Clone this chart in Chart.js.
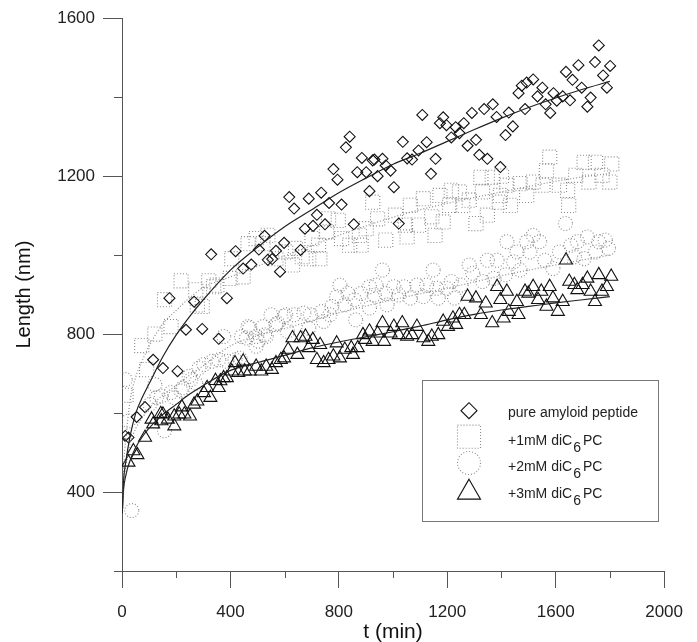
<!DOCTYPE html>
<html>
<head>
<meta charset="utf-8">
<script src="https://cdn.jsdelivr.net/npm/chart.js@4.4.0/dist/chart.umd.min.js"></script>
<style>
  html, body { margin: 0; padding: 0; background: #fff; }
</style>
</head>
<body>
<canvas id="grafica" width="697" height="642"></canvas>
<script>
// DATOS (t en min, longitud en nm)
const amyT = [12, 24, 54, 85, 115, 151, 175, 205, 236, 266, 296, 329, 357, 387, 419, 447, 477, 505, 526, 538, 554, 568, 583, 598, 617, 635, 659, 675, 689, 705, 719, 735, 749, 764, 780, 795, 810, 826, 840, 855, 868, 885, 901, 913, 925, 931, 943, 961, 973, 991, 1003, 1021, 1036, 1052, 1070, 1094, 1108, 1124, 1140, 1157, 1173, 1185, 1197, 1215, 1231, 1245, 1261, 1275, 1291, 1306, 1318, 1336, 1348, 1368, 1382, 1396, 1415, 1427, 1442, 1463, 1475, 1487, 1493, 1517, 1533, 1551, 1563, 1580, 1592, 1604, 1626, 1638, 1653, 1662, 1684, 1696, 1717, 1729, 1745, 1759, 1775, 1789, 1801];
const amyL = [542, 538, 590, 615, 735, 714, 891, 706, 811, 882, 813, 1002, 788, 891, 1010, 966, 976, 1014, 1049, 988, 990, 1011, 958, 1031, 1147, 1118, 1013, 1067, 1143, 1074, 1102, 1158, 1078, 1132, 1218, 1191, 1128, 1273, 1300, 1078, 1210, 1246, 1210, 1162, 1240, 1242, 1200, 1244, 1227, 1214, 1172, 1080, 1287, 1245, 1242, 1265, 1355, 1286, 1206, 1244, 1334, 1349, 1329, 1298, 1324, 1309, 1334, 1277, 1360, 1292, 1254, 1370, 1244, 1382, 1350, 1223, 1304, 1361, 1326, 1410, 1429, 1370, 1437, 1445, 1402, 1424, 1382, 1360, 1410, 1391, 1402, 1464, 1392, 1444, 1481, 1424, 1376, 1399, 1489, 1531, 1455, 1424, 1479];

const c1T = [15, 73, 91, 121, 157, 181, 218, 272, 278, 296, 320, 338, 350, 399, 405, 447, 465, 495, 520, 538, 568, 604, 629, 640, 665, 689, 701, 725, 730, 755, 762, 798, 810, 840, 876, 882, 901, 925, 943, 973, 1009, 1046, 1052, 1064, 1094, 1112, 1143, 1155, 1173, 1185, 1209, 1215, 1245, 1257, 1281, 1306, 1324, 1330, 1348, 1366, 1392, 1396, 1400, 1420, 1433, 1469, 1493, 1517, 1553, 1566, 1578, 1614, 1644, 1648, 1674, 1705, 1723, 1747, 1771, 1800, 1807];
const c1L = [645, 771, 710, 800, 887, 819, 935, 912, 874, 870, 935, 920, 924, 941, 991, 945, 1029, 1042, 1029, 1050, 991, 1008, 975, 1017, 996, 991, 1042, 1025, 991, 1059, 1092, 1088, 1042, 1025, 1050, 1025, 1067, 1134, 1092, 1038, 1101, 1076, 1046, 1126, 1076, 1143, 1097, 1050, 1151, 1084, 1126, 1164, 1160, 1126, 1139, 1080, 1197, 1160, 1101, 1197, 1134, 1151, 1200, 1177, 1126, 1181, 1151, 1185, 1177, 1214, 1248, 1177, 1164, 1126, 1202, 1235, 1185, 1235, 1202, 1185, 1231];

const c2T = [12, 24, 36, 103, 121, 127, 145, 157, 181, 193, 218, 224, 248, 254, 272, 284, 302, 332, 357, 375, 387, 417, 435, 441, 459, 465, 471, 495, 495, 502, 520, 526, 532, 550, 568, 574, 598, 604, 610, 635, 671, 689, 695, 737, 744, 767, 774, 792, 804, 822, 834, 858, 862, 882, 913, 913, 931, 937, 961, 973, 978, 1003, 1021, 1040, 1064, 1088, 1112, 1124, 1148, 1161, 1167, 1197, 1215, 1227, 1251, 1281, 1294, 1330, 1348, 1372, 1384, 1415, 1420, 1445, 1457, 1469, 1493, 1505, 1517, 1541, 1560, 1590, 1614, 1636, 1656, 1669, 1680, 1705, 1717, 1747, 1759, 1783, 1795];
const c2L = [685, 580, 353, 622, 672, 639, 643, 555, 652, 639, 656, 664, 693, 685, 676, 714, 723, 731, 735, 794, 731, 735, 739, 794, 790, 819, 815, 794, 769, 782, 819, 798, 794, 849, 824, 828, 845, 849, 807, 849, 853, 815, 849, 857, 832, 849, 870, 895, 924, 874, 903, 887, 836, 903, 920, 866, 899, 924, 962, 903, 874, 920, 899, 920, 891, 924, 895, 924, 962, 916, 891, 916, 933, 891, 924, 975, 954, 933, 987, 941, 987, 950, 1034, 983, 1008, 962, 1034, 1008, 1050, 1034, 987, 966, 1008, 1080, 1025, 996, 1034, 991, 1046, 1008, 1034, 1038, 1017];

const c3T = [24, 42, 57, 85, 109, 115, 143, 145, 151, 169, 193, 193, 211, 221, 230, 251, 266, 278, 302, 314, 326, 345, 357, 363, 375, 387, 405, 417, 429, 447, 453, 471, 495, 514, 532, 553, 568, 586, 598, 613, 629, 647, 659, 677, 689, 704, 719, 731, 744, 762, 780, 792, 804, 822, 846, 852, 870, 889, 897, 913, 925, 943, 961, 967, 991, 1003, 1021, 1034, 1052, 1070, 1088, 1112, 1130, 1143, 1167, 1185, 1203, 1221, 1233, 1245, 1263, 1275, 1306, 1324, 1342, 1366, 1384, 1396, 1408, 1420, 1427, 1457, 1463, 1487, 1499, 1517, 1535, 1547, 1566, 1578, 1590, 1608, 1626, 1638, 1650, 1669, 1680, 1699, 1717, 1729, 1745, 1759, 1771, 1789, 1805];
const c3L = [475, 504, 494, 538, 584, 572, 598, 580, 597, 584, 592, 567, 597, 615, 597, 592, 622, 630, 651, 664, 639, 682, 664, 681, 689, 689, 706, 727, 702, 731, 706, 706, 718, 706, 718, 710, 727, 735, 739, 761, 790, 748, 790, 794, 765, 786, 735, 773, 727, 735, 744, 777, 739, 761, 765, 748, 765, 798, 786, 807, 781, 802, 828, 781, 802, 819, 798, 828, 794, 798, 819, 790, 781, 794, 798, 832, 819, 840, 824, 849, 849, 895, 891, 849, 878, 828, 920, 887, 840, 908, 857, 882, 849, 908, 903, 920, 887, 908, 870, 920, 891, 857, 882, 987, 933, 925, 912, 925, 941, 908, 882, 950, 908, 920, 946];

// curvas de ajuste
const fitT   = [1, 5, 15, 30, 50, 75, 100, 150, 200, 250, 300, 400, 500, 600, 700, 800, 900, 1000, 1100, 1200, 1300, 1400, 1500, 1600, 1700, 1800];
const fitAmy = [345, 420, 480, 542, 598, 640, 674, 742, 798, 845, 887, 962, 1020, 1072, 1115, 1158, 1195, 1230, 1258, 1288, 1318, 1347, 1374, 1398, 1420, 1440];
const fitC1  = [345, 450, 540, 632, 690, 733, 770, 825, 860, 892, 918, 945, 972, 998, 1024, 1050, 1074, 1096, 1115, 1131, 1146, 1160, 1174, 1187, 1198, 1207];
const fitC2  = [345, 410, 468, 522, 560, 588, 612, 645, 670, 696, 720, 770, 796, 814, 834, 854, 871, 887, 902, 916, 932, 948, 962, 975, 988, 1000];
const fitC3  = [345, 400, 445, 480, 512, 540, 562, 596, 622, 648, 670, 708, 728, 746, 765, 780, 793, 806, 820, 836, 850, 861, 870, 879, 887, 895];

const xTicks = [0, 400, 800, 1200, 1600, 2000];
const yTicks = [400, 800, 1200, 1600];
const xMinor = [200, 600, 1000, 1400, 1800];
const yMinor = [200, 600, 1000, 1400];

const legendLabels = [
  ['pure amyloid peptide', '', ''],
  ['+1mM diC', '6', 'PC'],
  ['+2mM diC', '6', 'PC'],
  ['+3mM diC', '6', 'PC']
];

const FUENTE = "'Liberation Sans', Arial, sans-serif";
const GRIS = '#8a8a8a';
const PUNTOS = [1, 2];
const pares = (t, l) => t.map((v, i) => ({ x: v, y: l[i] }));

// lineas punteadas para los marcadores grises
const punteado = {
  id: 'punteado',
  beforeDatasetDraw(chart, args) {
    const ds = chart.data.datasets[args.index];
    if (ds.punteado) chart.ctx.setLineDash(PUNTOS);
  },
  afterDatasetDraw(chart) {
    chart.ctx.setLineDash([]);
  }
};

// marcas menores de los ejes
const marcasMenores = {
  id: 'marcasMenores',
  afterDraw(chart) {
    const { ctx, scales: { x, y } } = chart;
    ctx.save();
    ctx.strokeStyle = '#555';
    ctx.lineWidth = 1;
    ctx.beginPath();
    xMinor.forEach(v => {
      const px = Math.round(x.getPixelForValue(v)) + 0.5;
      ctx.moveTo(px, x.top);
      ctx.lineTo(px, x.top + 7);
    });
    yMinor.forEach(v => {
      const py = Math.round(y.getPixelForValue(v)) + 0.5;
      ctx.moveTo(y.right - 8, py);
      ctx.lineTo(y.right, py);
    });
    ctx.stroke();
    ctx.restore();
  }
};

// leyenda en caja con subindice
const leyenda = {
  id: 'leyenda',
  afterDraw(chart) {
    const ctx = chart.ctx;
    const estilos = [
      { pointStyle: 'rectRot', radius: 8, color: '#111', dash: [], dy: 0 },
      { pointStyle: 'rect', radius: 16.3, color: GRIS, dash: PUNTOS, dy: 0 },
      { pointStyle: 'circle', radius: 11.5, color: GRIS, dash: PUNTOS, dy: 0 },
      { pointStyle: 'triangle', radius: 13.3, color: '#111', dash: [], dy: 2.5 }
    ];
    const filaY = [410.7, 436.7, 463, 490];
    const baseY = [416.7, 445, 471, 497.5];
    ctx.save();
    ctx.fillStyle = '#fff';
    ctx.fillRect(423, 380, 236, 141);
    ctx.strokeStyle = '#777';
    ctx.lineWidth = 1;
    ctx.strokeRect(422.5, 380.5, 236, 141);
    estilos.forEach((e, i) => {
      ctx.setLineDash(e.dash);
      ctx.strokeStyle = e.color;
      ctx.fillStyle = 'rgba(0,0,0,0)';
      ctx.lineWidth = 1.1;
      Chart.helpers.drawPoint(ctx, { pointStyle: e.pointStyle, radius: e.radius, rotation: 0, borderWidth: 1.1 }, 469, filaY[i] + e.dy);
      ctx.setLineDash([]);
      const [a, sub, b] = legendLabels[i];
      ctx.fillStyle = '#222';
      ctx.font = '14px ' + FUENTE;
      ctx.textBaseline = 'alphabetic';
      let x = 508;
      ctx.fillText(a, x, baseY[i]);
      x += ctx.measureText(a).width + 1;
      if (sub) {
        ctx.fillText(sub, x, baseY[i] + 7);
        x += ctx.measureText(sub).width + 2;
        ctx.fillText(b, x, baseY[i]);
      }
    });
    ctx.restore();
  }
};

const marcador = (label, t, l, estilo, radio, color, orden, dotted) => ({
  label: label,
  data: pares(t, l),
  pointStyle: estilo,
  pointRadius: radio,
  pointBorderColor: color,
  pointBackgroundColor: 'rgba(0,0,0,0)',
  pointBorderWidth: 1.1,
  showLine: false,
  order: orden,
  punteado: dotted
});

const curva = (t, l, color, dash) => ({
  label: 'ajuste',
  data: pares(t, l),
  showLine: true,
  pointRadius: 0,
  borderColor: color,
  borderWidth: 1.2,
  borderDash: dash,
  cubicInterpolationMode: 'monotone',
  order: 0
});

const config = {
  type: 'scatter',
  data: {
    datasets: [
      curva(fitT, fitAmy, '#222', []),
      curva(fitT, fitC1, GRIS, PUNTOS),
      curva(fitT, fitC2, GRIS, PUNTOS),
      curva(fitT, fitC3, '#222', []),
      marcador('pure amyloid peptide', amyT, amyL, 'rectRot', 5.5, '#111', 1, false),
      marcador('+3mM', c3T, c3L, 'triangle', 7.5, '#111', 2, false),
      marcador('+2mM', c2T, c2L, 'circle', 7, GRIS, 3, true),
      marcador('+1mM', c1T, c1L, 'rect', 10, GRIS, 4, true)
    ]
  },
  options: {
    responsive: false,
    animation: false,
    layout: { padding: { top: 14, right: 24, left: 0, bottom: 0 } },
    plugins: { legend: { display: false }, tooltip: { enabled: false } },
    scales: {
      x: {
        type: 'linear',
        min: 0,
        max: 2000,
        afterBuildTicks: s => { s.ticks = xTicks.map(v => ({ value: v })); },
        afterFit: s => { s.height = 71; },
        border: { display: true, color: '#555', width: 1 },
        grid: { drawOnChartArea: false, tickLength: 17, tickColor: '#555', tickWidth: 1 },
        ticks: { padding: 14, color: '#222', font: { family: FUENTE, size: 17 }, maxRotation: 0, autoSkip: false, callback: v => String(v) },
        title: { display: true, text: 't (min)', color: '#111', font: { family: FUENTE, size: 21, lineHeight: 1 }, padding: { top: 0, bottom: -1 } }
      },
      y: {
        type: 'linear',
        min: 200,
        max: 1600,
        afterBuildTicks: s => { s.ticks = yTicks.map(v => ({ value: v })); },
        afterFit: s => { s.width = 122; },
        border: { display: true, color: '#555', width: 1 },
        grid: { drawOnChartArea: false, tickLength: 19, tickColor: '#555', tickWidth: 1 },
        ticks: { padding: 8, color: '#222', font: { family: FUENTE, size: 17 }, callback: v => String(v) },
        title: { display: true, text: 'Length (nm)', color: '#111', font: { family: FUENTE, size: 20, lineHeight: 1 }, padding: { top: 14, bottom: 0 } }
      }
    }
  },
  plugins: [punteado, marcasMenores, leyenda]
};

new Chart(document.getElementById('grafica'), config);
</script>
</body>
</html>
